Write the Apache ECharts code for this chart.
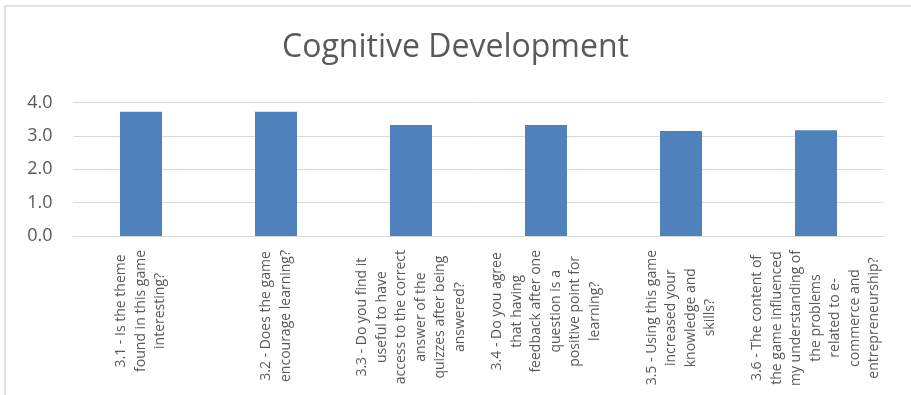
<!DOCTYPE html>
<html>
<head>
<meta charset="utf-8">
<script src="https://cdn.jsdelivr.net/npm/echarts@6/dist/echarts.min.js"></script>
<style>
  html, body { margin: 0; padding: 0; background: #fff; }
  #chart { width: 911px; height: 395px; }
</style>
</head>
<body>
<div id="chart"></div>
<script>
// Survey questions (each entry holds the wrapped lines of one category label)
const questions = [
  ['3.1 - Is the theme', 'found in this game', 'interesting?'],
  ['3.2 - Does the game', 'encourage learning?'],
  ['3.3 - Do you find it', 'useful to have', 'access to the correct', 'answer of the', 'quizzes after being', 'answered?'],
  ['3.4 - Do you agree', 'that having', 'feedback after one', 'question is a', 'positive point for', 'learning?'],
  ['3.5 - Using this game', 'increased your', 'knowledge and', 'skills?'],
  ['3.6 - The content of', 'the game influenced', 'my understanding of', 'the problems', 'related to e-', 'commerce and', 'entrepreneurship?']
];
// Average score per question
const scores = [3.73, 3.73, 3.33, 3.33, 3.15, 3.17];
// Value axis range
const yMin = 0, yMax = 4, yStep = 1;

const categories = questions.map(lines => lines.join('\n'));

const chart = echarts.init(document.getElementById('chart'), null, { renderer: 'canvas' });
const textGray = '#595959';
const font = '"Open Sans", "Liberation Sans", sans-serif';

chart.setOption({
  animation: false,
  backgroundColor: '#fff',
  title: {
    text: 'Cognitive Development',
    left: 'center',
    top: 27,
    textStyle: { fontFamily: font, fontSize: 32, fontWeight: 'normal', color: textGray }
  },
  graphic: [{
    type: 'rect',
    silent: true,
    shape: { x: 5, y: 6, width: 1000, height: 1000 },
    style: { fill: 'none', stroke: '#e3e3e3', lineWidth: 2 }
  }],
  grid: { left: 73.5, right: 27.5, top: 102.7, bottom: 159, outerBoundsMode: 'none' },
  xAxis: {
    type: 'category',
    data: categories,
    axisLine: { lineStyle: { color: '#d9d9d9', width: 1 } },
    axisTick: { show: false },
    axisLabel: {
      interval: 0,
      rotate: 90,
      margin: 14,
      formatter: v => v.split('\n').map(s => '{c|' + s + '}').join('\n'),
      rich: {
        c: { align: 'center', fontFamily: font, fontSize: 14, lineHeight: 19.5, color: textGray }
      }
    }
  },
  yAxis: {
    type: 'value',
    min: yMin,
    max: yMax,
    interval: yStep,
    axisLine: { show: false },
    axisTick: { show: false },
    splitLine: { lineStyle: { color: '#d9d9d9', width: 1 } },
    axisLabel: {
      margin: 21,
      fontFamily: font,
      fontSize: 18,
      color: textGray,
      formatter: v => v.toFixed(1)
    }
  },
  series: [{
    type: 'bar',
    data: scores,
    barWidth: 42,
    itemStyle: { color: '#4f81bd' }
  }]
});
</script>
</body>
</html>
